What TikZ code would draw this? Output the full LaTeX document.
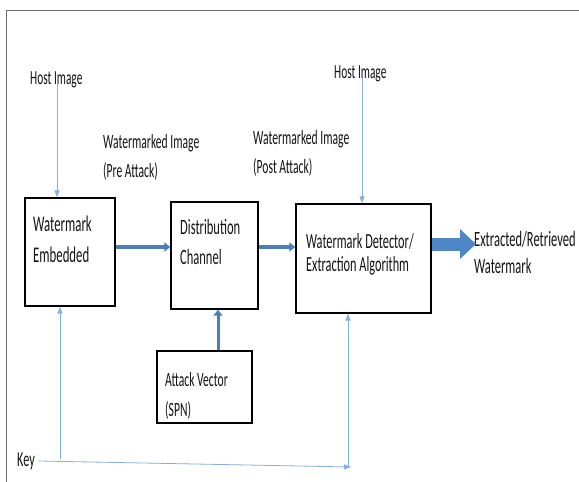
\documentclass[tikz,border=0pt]{standalone}
\usepackage{fontspec}
\setmainfont{Carlito}
\usetikzlibrary{arrows.meta}
\definecolor{framegray}{HTML}{6E6E6E}
\definecolor{flowblue}{HTML}{4A7EBB}
\definecolor{bigblue}{HTML}{4F86C6}
\definecolor{thinblue}{HTML}{86AEDC}
\begin{document}
\begin{tikzpicture}[x=1pt,y=-1pt,
  box/.style={draw=black, line width=1.4pt, fill=white, inner sep=0pt},
  lbl/.style={inner sep=0pt, align=left, anchor=north west,
              yscale=1.75, transform shape, text=black!92},
  thinarrow/.style={draw=thinblue, line width=0.8pt,
                    -{Triangle[length=7pt,width=5pt]}},
  flowarrow/.style={draw=flowblue, line width=4pt,
                    -{Triangle[length=6pt,width=9pt]}},
  bigarrow/.style={draw=bigblue, line width=13pt,
                   -{Triangle[length=16pt,width=29pt]}}]

\useasboundingbox (0,0) rectangle (579,482);
\fill[white] (0,0) rectangle (579,482);

% page frame (top and left edges)
\draw[framegray, line width=1pt] (6,482) -- (6,10) -- (579,10);

% processing blocks
\node[box, minimum width=90pt,  minimum height=108pt] (emb)  at (70,252)    {};
\node[box, minimum width=87pt,  minimum height=107pt] (dist) at (214.5,255.5) {};
\node[box, minimum width=135pt, minimum height=109pt] (det)  at (363.5,258.5) {};
\node[box, minimum width=95pt,  minimum height=72pt]  (atk)  at (204.5,387)  {};

% block texts
\node[lbl, font=\fontsize{12.8}{17.2}\selectfont] (embT)  at (33,216)  {Watermark\\Embedded};
\node[lbl, font=\fontsize{12.5}{17.2}\selectfont] (distT) at (180,219) {Distribution\\Channel};
\node[lbl, font=\fontsize{12.3}{13.4}\selectfont] (detT)  at (306,233) {Watermark Detector/\\Extraction Algorithm};
\node[lbl, font=\fontsize{11.6}{17.2}\selectfont] (atkT)  at (165,372) {Attack Vector\\(SPN)};

% free labels
\node[lbl, font=\fontsize{11.4}{17}\selectfont] (hostL) at (30,71)  {Host Image};
\node[lbl, font=\fontsize{11.4}{17}\selectfont] (hostR) at (334,65) {Host Image};
\node[lbl, font=\fontsize{11.6}{16.4}\selectfont] (preT)  at (103,134) {Watermarked Image\\(Pre Attack)};
\node[lbl, font=\fontsize{11.6}{16.4}\selectfont] (postT) at (253,130) {Watermarked Image\\(Post Attack)};
\node[lbl, font=\fontsize{12.5}{15.6}\selectfont] (extT)  at (474,231) {Extracted/Retrieved\\Watermark};
\node[lbl, font=\fontsize{12.2}{16}\selectfont] (keyT)  at (17,452) {Key};

% helper coordinates
\coordinate (hostLx) at (57,0);
\coordinate (hostRx) at (362,0);
\coordinate (row)    at (0,247);
\coordinate (atkx)   at (218,0);
\coordinate (extTip) at (476,244);
\coordinate (keyEnd) at (351,467);
\coordinate (keyL)   at (60,459);
\coordinate (keyR)   at (348,466.5);

% host image inputs
\draw[thinarrow] (hostL.base -| hostLx) -- (emb.north -| hostLx);
\draw[thinarrow] (hostR.base -| hostRx) -- (det.north -| hostRx);

% main signal flow
\draw[flowarrow] (emb.east |- row) -- (dist.west |- row);
\draw[flowarrow] (dist.east |- row) -- (det.west |- row);
\draw[flowarrow, line width=3pt] (atk.north -| atkx) -- (dist.south -| atkx);
\draw[bigarrow] (det.east |- extTip) -- (extTip);

% key distribution
\draw[thinarrow, shorten <=3pt] (keyT.east) -- (keyEnd);
\draw[thinarrow] (keyL) -- (emb.south -| keyL);
\draw[thinarrow] (keyR) -- (det.south -| keyR);
\end{tikzpicture}
\end{document}
